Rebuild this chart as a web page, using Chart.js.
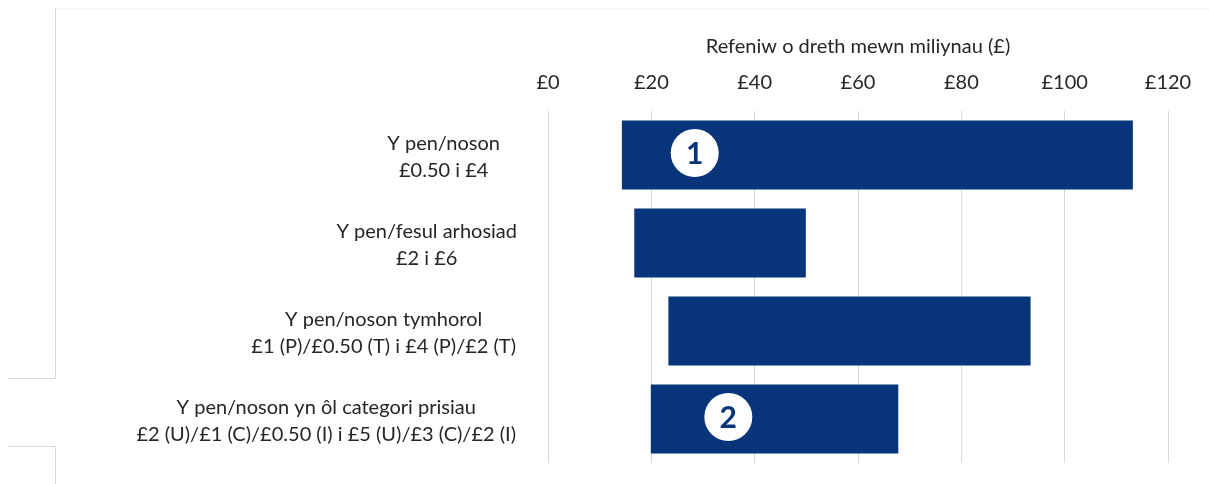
<!DOCTYPE html>
<html>
<head>
<meta charset="utf-8">
<script src="https://cdn.jsdelivr.net/npm/chart.js@4/dist/chart.umd.min.js"></script>
<style>
  html, body { margin: 0; padding: 0; background: #fff; }
  #wrap { width: 1209px; height: 484px; }
</style>
</head>
<body>
<div id="wrap"><canvas id="chart"></canvas></div>
<script>
// categories (two lines each)
const categories = [
  ["Y pen/noson", "£0.50 i £4"],
  ["Y pen/fesul arhosiad", "£2 i £6"],
  ["Y pen/noson tymhorol", "£1 (P)/£0.50 (T) i £4 (P)/£2 (T)"],
  ["Y pen/noson yn ôl categori prisiau", "£2 (U)/£1 (C)/£0.50 (I) i £5 (U)/£3 (C)/£2 (I)"]
];
// revenue range, £ millions
const lowValues = [14.3, 16.7, 23.3, 19.9];
const highValues = [113.2, 49.9, 93.4, 67.8];
const xTicks = [0, 20, 40, 60, 80, 100, 120];
const axisTitle = "Refeniw o dreth mewn miliynau (£)";
// numbered markers on the bars
const markerText = ["1", "2"];
const markerValue = [28.4, 34.9];
const markerRow = [0, 3];

const fontFamily = "Lato, 'Open Sans', sans-serif";
const textColor = "#262626";
const barColor = "#08357a";

// faint frame bits on the left edge of the original picture
const framePlugin = {
  id: "frame",
  beforeDraw(chart) {
    const ctx = chart.ctx;
    ctx.save();
    ctx.strokeStyle = "#d9d9d9";
    ctx.lineWidth = 1;
    ctx.beginPath();
    ctx.moveTo(55.5, 8); ctx.lineTo(55.5, 378.5); ctx.lineTo(8, 378.5);
    ctx.moveTo(8, 446.5); ctx.lineTo(55.5, 446.5); ctx.lineTo(55.5, 484);
    ctx.stroke();
    ctx.strokeStyle = "#f7f7f7";
    ctx.beginPath();
    ctx.moveTo(56, 8.5); ctx.lineTo(1209, 8.5);
    ctx.stroke();
    ctx.restore();
  }
};

// category labels: each block right-aligned, lines centred within it
const labelInset = [48, 31, 32, 32];
const labelPlugin = {
  id: "catLabels",
  afterDraw(chart) {
    const ctx = chart.ctx;
    const y = chart.scales.y;
    const lineH = 27;
    ctx.save();
    ctx.font = "20px " + fontFamily;
    ctx.fillStyle = textColor;
    ctx.textAlign = "center";
    ctx.textBaseline = "middle";
    categories.forEach((lines, i) => {
      const right = chart.chartArea.left - labelInset[i];
      const w = Math.max(...lines.map(l => ctx.measureText(l).width));
      const cx = right - w / 2;
      const cy = y.getPixelForValue(i) + 2;
      lines.forEach((l, j) => {
        ctx.fillText(l, cx, cy + (j - (lines.length - 1) / 2) * lineH);
      });
    });
    ctx.restore();
  }
};

const markerPlugin = {
  id: "markers",
  afterDatasetsDraw(chart) {
    const ctx = chart.ctx;
    const xs = chart.scales.x, ys = chart.scales.y;
    ctx.save();
    markerText.forEach((t, i) => {
      const px = xs.getPixelForValue(markerValue[i]);
      const py = ys.getPixelForValue(markerRow[i]) - 2;
      ctx.beginPath();
      ctx.arc(px, py, 24, 0, Math.PI * 2);
      ctx.fillStyle = "#ffffff";
      ctx.fill();
      ctx.fillStyle = barColor;
      ctx.font = "bold 30px " + fontFamily;
      ctx.textAlign = "center";
      ctx.textBaseline = "middle";
      ctx.fillText(t, px, py + 1);
    });
    ctx.restore();
  }
};

new Chart(document.getElementById("chart"), {
  type: "bar",
  data: {
    labels: categories,
    datasets: [{
      data: lowValues.map((v, i) => [v, highValues[i]]),
      backgroundColor: barColor,
      borderWidth: 0,
      barPercentage: 0.87,
      categoryPercentage: 0.9
    }]
  },
  options: {
    indexAxis: "y",
    responsive: true,
    maintainAspectRatio: false,
    animation: false,
    layout: { padding: { top: 0, right: 41, bottom: 21, left: 0 } },
    plugins: { legend: { display: false }, tooltip: { enabled: false } },
    scales: {
      x: {
        position: "top",
        min: 0, max: 120,
        afterBuildTicks: (s) => { s.ticks = xTicks.map(v => ({ value: v })); },
        afterFit: (s) => { s.height = 111; },
        grid: { color: "#d9d9d9", drawTicks: false },
        border: { display: false },
        ticks: {
          padding: 16,
          color: textColor,
          font: { family: fontFamily, size: 20 },
          callback: (v) => "£" + v
        },
        title: {
          display: true,
          text: axisTitle,
          color: textColor,
          font: { family: fontFamily, size: 20 },
          padding: { top: 35, bottom: 0 }
        }
      },
      y: {
        afterFit: (s) => { s.width = 548; },
        grid: { display: false },
        border: { display: false },
        ticks: { display: false }
      }
    }
  },
  plugins: [framePlugin, labelPlugin, markerPlugin]
});
</script>
</body>
</html>
